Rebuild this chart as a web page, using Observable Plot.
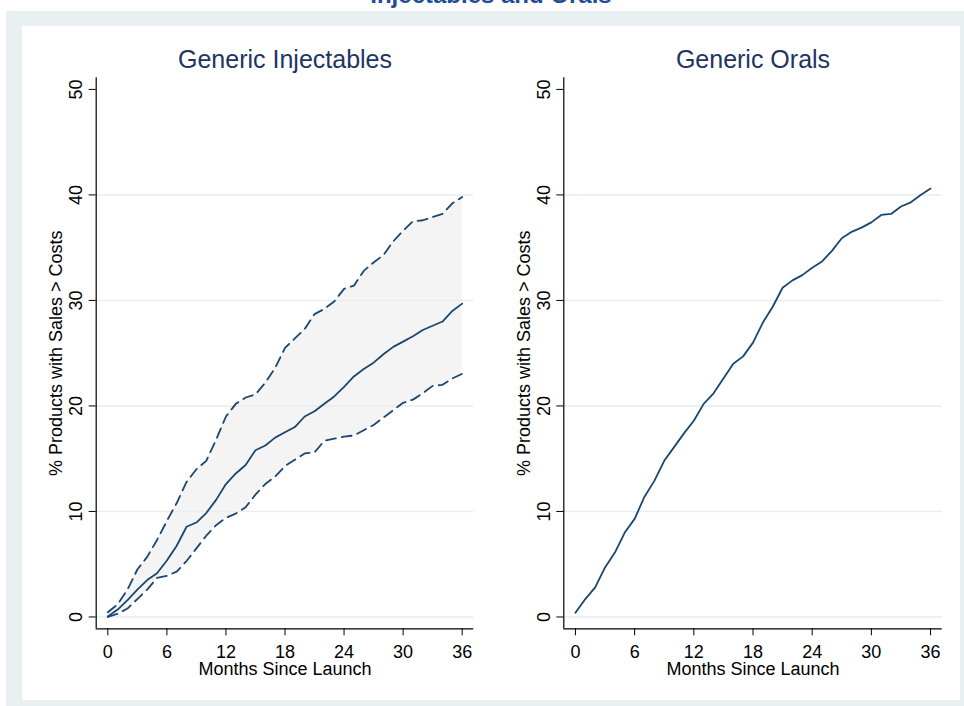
<!DOCTYPE html>
<html>
<head>
<meta charset="utf-8">
<script src="https://cdn.jsdelivr.net/npm/d3@7"></script>
<script src="https://cdn.jsdelivr.net/npm/@observablehq/plot@0.6"></script>
<style>
  html, body { margin: 0; padding: 0; background: #ffffff; overflow: hidden; }
  body { width: 964px; height: 706px; position: relative; font-family: "Liberation Sans", Arial, sans-serif; }
  #heading { position: absolute; left: 0; width: 982px; top: -17px; text-align: center;
             font: bold 24px/24px "Liberation Sans", Arial, sans-serif; color: #1f4e96; }
  #frame { position: absolute; left: 6px; top: 11px; width: 958px; height: 695px; background: #e9f0f2; }
  #panel { position: absolute; left: 22px; top: 26px; width: 938px; height: 674px; background: #ffffff; }
  .chart { position: absolute; top: 26px; }
  #left { left: 22px; }
  #right { left: 490px; }
</style>
</head>
<body>
<div id="heading">Injectables and Orals</div>
<div id="frame"></div>
<div id="panel"></div>
<div id="left" class="chart"></div>
<div id="right" class="chart"></div>
<script>
// Months since launch, 0 to 36
const months = d3.range(0, 37);

// Generic injectables: share of products whose sales exceed costs (%), with bounds
const injMean  = [0.05, 0.7, 1.6, 2.6, 3.5, 4.15, 5.35, 6.75, 8.55, 8.95, 9.85, 11.1, 12.6, 13.6, 14.4, 15.8, 16.25, 17.0, 17.5, 18.0, 19.0, 19.5, 20.2, 20.9, 21.8, 22.8, 23.5, 24.1, 24.9, 25.6, 26.1, 26.6, 27.2, 27.6, 28.0, 29.0, 29.7];
const injUpper = [0.45, 1.2, 2.6, 4.5, 5.7, 7.3, 9.1, 10.8, 12.8, 14.0, 14.8, 16.8, 19.0, 20.2, 20.8, 21.1, 22.2, 23.6, 25.5, 26.4, 27.3, 28.7, 29.2, 29.9, 31.1, 31.4, 32.8, 33.6, 34.3, 35.6, 36.6, 37.5, 37.6, 37.9, 38.2, 39.2, 39.8];
const injLower = [0.0, 0.3, 0.8, 1.7, 2.6, 3.7, 3.9, 4.3, 5.3, 6.5, 7.7, 8.7, 9.4, 9.8, 10.4, 11.6, 12.6, 13.3, 14.3, 14.9, 15.5, 15.6, 16.7, 16.9, 17.1, 17.2, 17.7, 18.2, 18.9, 19.6, 20.3, 20.6, 21.2, 21.9, 22.0, 22.6, 23.05];

// Generic orals
const oralMean = [0.4, 1.7, 2.8, 4.7, 6.1, 8.0, 9.3, 11.4, 12.9, 14.8, 16.1, 17.4, 18.6, 20.2, 21.2, 22.6, 24.0, 24.7, 26.0, 27.9, 29.4, 31.2, 31.9, 32.4, 33.1, 33.7, 34.7, 35.9, 36.5, 36.9, 37.4, 38.1, 38.2, 38.9, 39.3, 40.0, 40.6];

const xTicks = [0, 6, 12, 18, 24, 30, 36];
const yTicks = [0, 10, 20, 30, 40, 50];
const yGrid  = [0, 10, 20, 30, 40];
const xDomain = [-1.18, 37.18];
const yDomain = [-1.12, 51.1];

const titles = ["Generic Injectables", "Generic Orals"];
const xLabel = "Months Since Launch";
const yLabel = "% Products with Sales > Costs";

const lineColor = "#1a476f";
const titleColor = "#1e3560";
const gridColor = "#e6eef1";
const bandColor = "#f4f4f4";
const font = "'Liberation Sans', Arial, sans-serif";

const injTable = months.map((m, i) => ({month: m, mean: injMean[i], lo: injLower[i], hi: injUpper[i]}));
const oralTable = months.map((m, i) => ({month: m, mean: oralMean[i]}));

function panel(title, dataMarks, marginLeft, marginRight) {
  return Plot.plot({
    width: 470,
    height: 674,
    marginLeft, marginRight,
    marginTop: 51.3,
    marginBottom: 71.7,
    style: {fontFamily: font, background: "transparent", color: "#000", overflow: "visible"},
    x: {domain: xDomain},
    y: {domain: yDomain},
    marks: [
      ...dataMarks.under,
      Plot.gridY(yGrid, {stroke: gridColor, strokeOpacity: 1, strokeWidth: 1.5}),
      ...dataMarks.over,
      Plot.ruleX([xDomain[0]], {stroke: "#000", strokeWidth: 1.2}),
      Plot.ruleY([yDomain[0]], {stroke: "#000", strokeWidth: 1.2}),
      Plot.axisX(xTicks, {tickSize: 7, tickPadding: 9, fontSize: 18, label: null, stroke: "#000", fill: "#000"}),
      Plot.axisY(yTicks, {tickSize: 7, tickPadding: 7, tickRotate: -90, fontSize: 18, label: null, stroke: "#000", fill: "#000"}),
      Plot.text([title], {frameAnchor: "top", dy: -17.6, fontSize: 25, fill: titleColor, lineAnchor: "middle", textAnchor: "middle"}),
      Plot.text([xLabel], {frameAnchor: "bottom", dy: 40.9, fontSize: 18, fill: "#000", lineAnchor: "middle", textAnchor: "middle"}),
      Plot.text([yLabel], {frameAnchor: "left", dx: -40, rotate: -90, fontSize: 18, fill: "#000", lineAnchor: "middle", textAnchor: "middle"})
    ]
  });
}

const dash = "10,6";

const left = panel(titles[0], {
  under: [
    Plot.areaY(injTable, {x: "month", y1: "lo", y2: "hi", fill: bandColor})
  ],
  over: [
    Plot.lineY(injTable, {x: "month", y: "hi", stroke: lineColor, strokeWidth: 1.8, strokeDasharray: dash}),
    Plot.lineY(injTable, {x: "month", y: "lo", stroke: lineColor, strokeWidth: 1.8, strokeDasharray: dash}),
    Plot.lineY(injTable, {x: "month", y: "mean", stroke: lineColor, strokeWidth: 1.8})
  ]
}, 73.7, 18.7);

const right = panel(titles[1], {
  under: [],
  over: [
    Plot.lineY(oralTable, {x: "month", y: "mean", stroke: lineColor, strokeWidth: 1.8})
  ]
}, 73.3, 18.3);

document.getElementById("left").append(left);
document.getElementById("right").append(right);
</script>
</body>
</html>
